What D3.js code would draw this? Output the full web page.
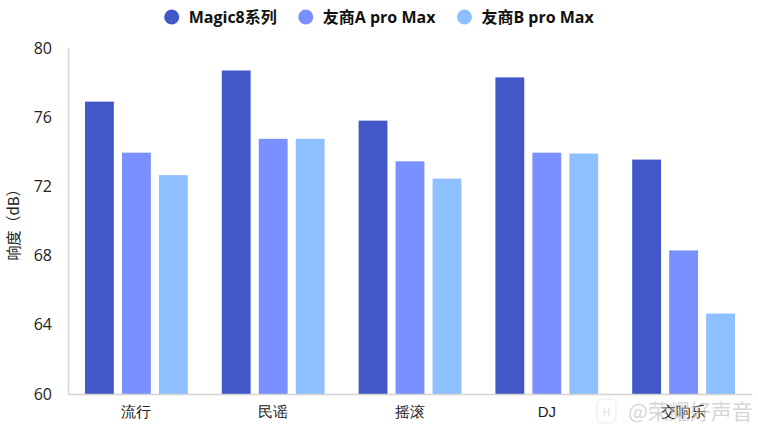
<!DOCTYPE html>
<html><head><meta charset="utf-8">
<script src="https://cdn.jsdelivr.net/npm/d3@7/dist/d3.min.js"></script>
<style>
html,body{margin:0;padding:0;background:#fff;}
svg{display:block;font-family:"Noto Sans CJK SC","Noto Sans",sans-serif;}
</style></head>
<body><svg id="c" width="758" height="430"></svg>
<script>
const categories = ["流行", "民谣", "摇滚", "DJ", "交响乐"];
const seriesNames = ["Magic8系列", "友商A pro Max", "友商B pro Max"];
const magic8 = [76.9, 78.7, 75.8, 78.3, 73.55];
const brandA = [73.95, 74.75, 73.45, 73.95, 68.3];
const brandB = [72.65, 74.75, 72.45, 73.9, 64.65];
const yTicks = [60, 64, 68, 72, 76, 80];
const colors = ["#4257C8", "#7A90FE", "#8EBFFE"];
const values = [magic8, brandA, brandB];

(function () {
const svg = d3.select("#c");
const mLeft = 68, mRight = 752, mTop = 48, mBottom = 394;

const x = d3.scaleBand().domain(categories).range([mLeft, mRight]).paddingInner(0).paddingOuter(0);
const x1 = d3.scaleBand().domain(seriesNames).range([17, x.bandwidth() - 17]).paddingInner(0.22).paddingOuter(0);
const y = d3.scaleLinear().domain([60, 80]).range([mBottom, mTop]);

// bars
seriesNames.forEach((s, si) => {
  svg.append("g").selectAll("rect").data(categories).join("rect")
    .attr("x", c => x(c) + x1(s))
    .attr("width", x1.bandwidth())
    .attr("y", (c, i) => y(values[si][i]))
    .attr("height", (c, i) => y(60) - y(values[si][i]))
    .attr("fill", colors[si]);
});

// y axis
const ya = svg.append("g").attr("transform", `translate(${mLeft},0)`)
  .call(d3.axisLeft(y).tickValues(yTicks).tickSize(0).tickPadding(16));
ya.select(".domain").attr("stroke", "#d4d4d4").attr("stroke-width", 1.5);
ya.selectAll("text").attr("font-size", 16).attr("fill", "#222")
  .attr("font-family", "'Open Sans','Noto Sans',sans-serif");

// x axis
const xa = svg.append("g").attr("transform", `translate(0,${mBottom})`)
  .call(d3.axisBottom(x).tickSize(0).tickPadding(12));
xa.select(".domain").attr("stroke", "#d4d4d4").attr("stroke-width", 1.5);
xa.selectAll("text").attr("font-size", 15).attr("fill", "#222");

// y label
svg.append("text").attr("transform", `translate(19,${(mTop + mBottom) / 2}) rotate(-90)`)
  .attr("text-anchor", "middle").attr("font-size", 15).attr("fill", "#222")
  .text("响度（dB）");

// legend
const lg = svg.append("g");
const items = [];
seriesNames.forEach((s, i) => {
  const g = lg.append("g");
  g.append("circle").attr("cx", 0).attr("cy", 0).attr("r", 7.5).attr("fill", colors[i]);
  const t = g.append("text").attr("x", 17).attr("y", 0).attr("dy", "0.35em")
    .attr("font-size", 16).attr("font-weight", "bold").attr("fill", "#111")
    .attr("font-family", "'Open Sans','Noto Sans CJK SC',sans-serif").text(s);
  const w = t.node().getComputedTextLength();
  items.push({g, w});
});
let pos = 0;
items.forEach((it) => {
  it.g.attr("transform", `translate(${pos},17)`);
  pos += 17 + it.w + 29;
});
const total = pos - 29 + 7.5;
lg.attr("transform", `translate(${758 / 2 - total / 2 + 7.5},0)`);

// watermark
const wm = svg.append("g").attr("opacity", 0.6);
wm.append("rect").attr("x", 597).attr("y", 399).attr("width", 19).attr("height", 24).attr("rx", 5)
  .attr("fill", "none").attr("stroke", "#ddd");
wm.append("text").attr("x", 606.5).attr("y", 416).attr("text-anchor", "middle")
  .attr("font-size", 11).attr("fill", "#ccc").text("H");
wm.append("text").attr("x", 628).attr("y", 419).attr("font-size", 21).attr("fill", "#bbb")
  .text("@荣耀好声音");
})();
</script></body></html>
